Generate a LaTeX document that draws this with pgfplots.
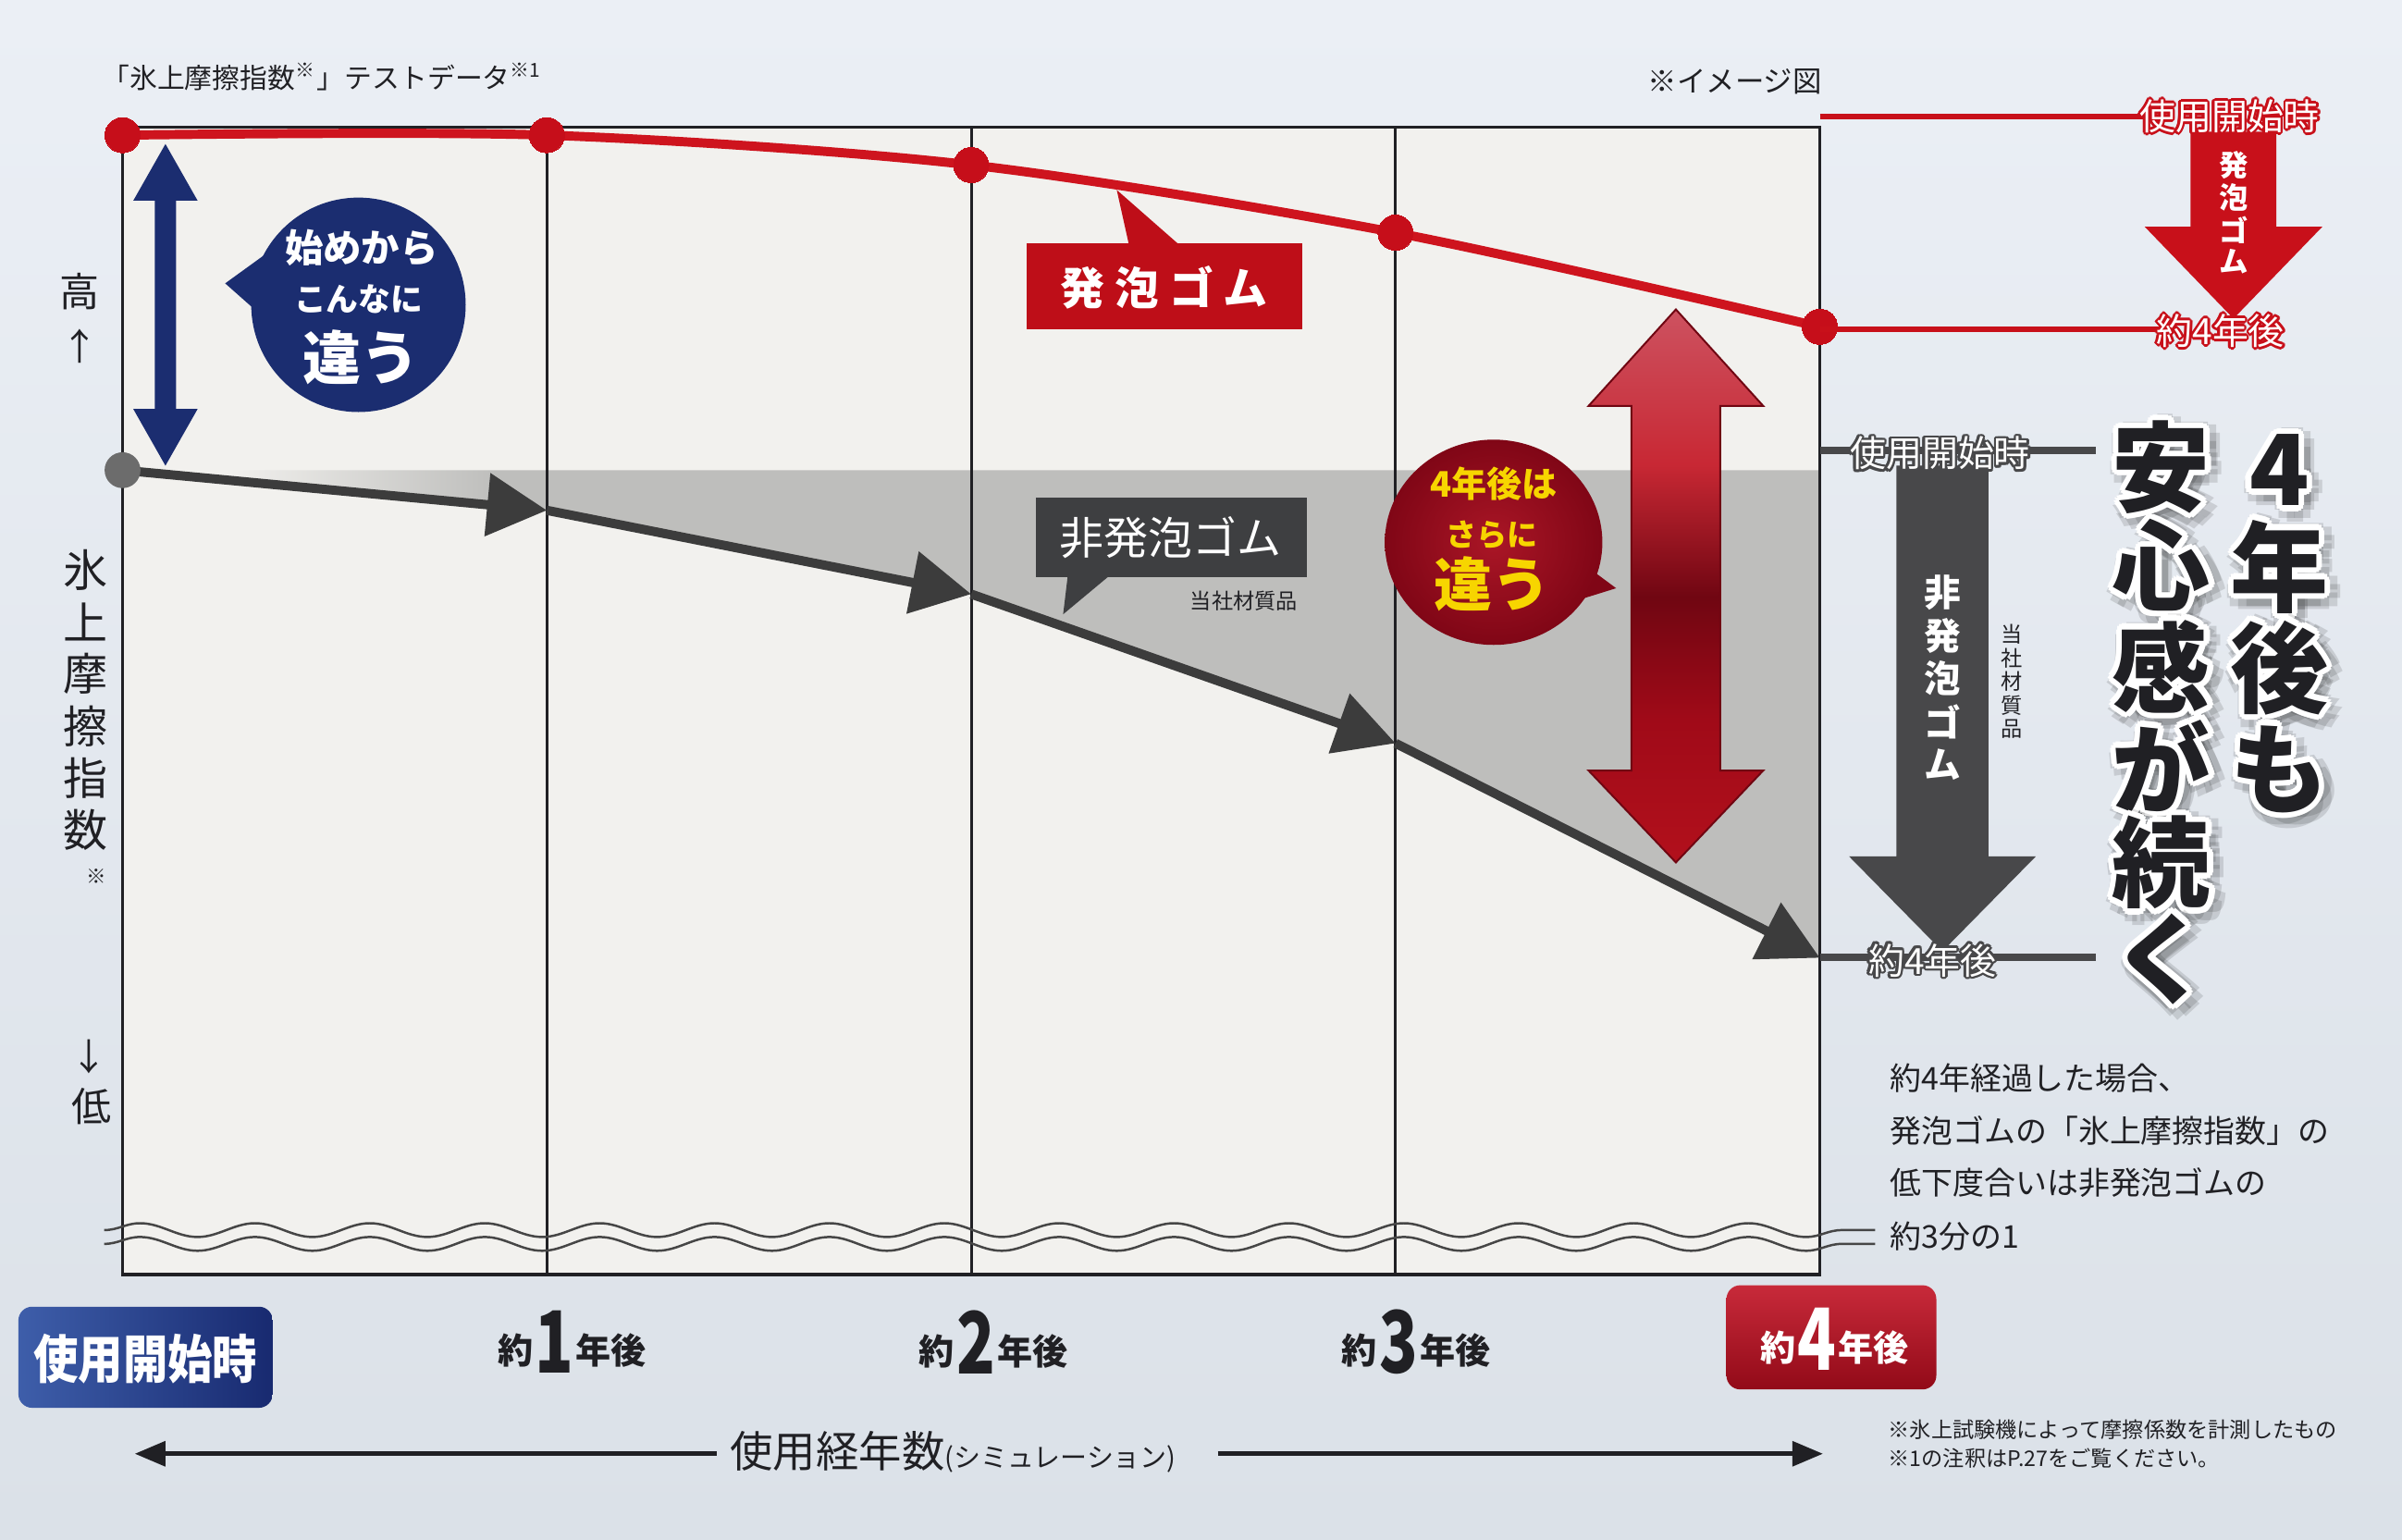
\documentclass[border=0pt]{standalone}
\usepackage{graphicx}
\usepackage{pgfplots}
\usepackage{pgfplotstable}
\pgfplotsset{compat=1.18}
\usepgfplotslibrary{fillbetween}
\usetikzlibrary{arrows.meta,decorations.pathmorphing}
\usepackage{fontspec}
\setmainfont{Noto Sans CJK JP}

% font size given in drawing units (1 unit = 0.1 mm)
\newcommand\fs[1]{\fontsize{\fpeval{#1*0.28453}pt}{\fpeval{#1*0.32}pt}\selectfont}

\definecolor{bgtop}{RGB}{235,239,245}
\definecolor{bgbot}{RGB}{219,225,232}
\definecolor{panel}{RGB}{242,241,238}
\definecolor{foamred}{RGB}{206,20,30}
\definecolor{dotred}{RGB}{198,14,26}
\definecolor{boxred}{RGB}{190,14,24}
\definecolor{tan}{RGB}{234,198,160}
\definecolor{fillgray}{RGB}{190,190,188}
\definecolor{linegray}{RGB}{60,60,60}
\definecolor{dotgray}{RGB}{108,108,108}
\definecolor{boxgray}{RGB}{62,63,65}
\definecolor{navy}{RGB}{27,45,112}
\definecolor{navyL}{RGB}{62,94,170}
\definecolor{navyD}{RGB}{24,42,112}
\definecolor{bubA}{RGB}{170,22,38}
\definecolor{bubB}{RGB}{128,6,22}
\definecolor{yel}{RGB}{247,213,0}
\definecolor{ink}{RGB}{32,32,36}
\definecolor{ra1}{RGB}{205,82,96}
\definecolor{ra2}{RGB}{200,40,52}
\definecolor{ra3}{RGB}{112,6,18}
\definecolor{ra4}{RGB}{160,10,24}
\definecolor{ra5}{RGB}{178,16,28}
\definecolor{legred}{RGB}{200,16,26}
\definecolor{leggray}{RGB}{72,72,74}
\definecolor{wavec}{RGB}{70,70,70}

\pgfdeclarehorizontalshading{grayfade}{100bp}{color(0bp)=(panel); color(28bp)=(panel); color(36bp)=(fillgray); color(100bp)=(fillgray)}
\pgfdeclareverticalshading{redbar}{100bp}{color(0bp)=(ra5); color(25bp)=(ra5); color(38bp)=(ra4); color(49bp)=(ra3); color(61bp)=(ra2); color(75bp)=(ra1); color(100bp)=(ra1)}

% outlined text: position, node options, outline colour, outline radius, text colour, text
\newcommand\otext[6]{%
  \foreach \a in {0,30,...,330}{\node[#2,text=#3,shift={(\a:#4)}] at (#1) {#6};}
  \node[#2,text=#5] at (#1) {#6};}

% heavy headline character with white outline and soft shadow
\newcommand\bigchar[3]{%
  \foreach \a in {0,45,...,315}{\node[bigtxt,text=black,opacity=0.12,shift={(\a:0.75mm)},xshift=0.3mm,yshift=-0.3mm] at (#1,#2) {#3};}
  \foreach \a in {0,30,...,330}{\node[bigtxt,text=white,shift={(\a:0.38mm)}] at (#1,#2) {#3};}
  \node[bigtxt,text=ink] at (#1,#2) {#3};}

% year label with a large digit centred on its grid line
\newcommand\yearlabel[4]{%
  \node[inner sep=0pt,text=#4] (d#3) at (#1,#2) {\fs{56}\bfseries\scalebox{0.74}[1]{#3}};
  \node[inner sep=0pt,anchor=base east,text=#4,font=\fs{23}\bfseries,yshift=0.6mm] at (d#3.base west) {約};
  \node[inner sep=0pt,anchor=base west,text=#4,font=\fs{23}\bfseries,yshift=0.6mm] at (d#3.base east) {年後};}

% ice friction index (top of frame = 100)
\pgfplotstableread{
year idx
0 99.3
1 99.3
2 96.7
3 90.8
4 82.6
}\foamdata
\pgfplotstableread{
year idx
0 70.1
1 66.6
2 59.3
3 46.3
4 27.6
}\plaindata

\begin{document}
\begin{tikzpicture}
\begin{scope}[x=0.1mm,y=-0.1mm]
  \path[use as bounding box] (0,0) rectangle (1568,1005);
  \shade[top color=bgtop, bottom color=bgbot] (0,0) rectangle (1568,1005);
  \fill[panel] (80,83) rectangle (1188,832);
\end{scope}

\begin{axis}[
  at={(8mm,-83.2mm)}, anchor=south west,
  scale only axis, width=110.8mm, height=74.9mm,
  xmin=0, xmax=4, ymin=0, ymax=100,
  axis line style={draw=none},
  xtick=\empty, ytick=\empty,
  clip=false,
]
  % shaded areas
  \addplot[name path=foam, draw=none, smooth, forget plot] table[x=year,y=idx]{\foamdata};
  \path[name path=ceiling] (axis cs:1,100) -- (axis cs:4,100);
  \addplot[fill=tan, draw=none, forget plot] fill between[of=ceiling and foam, soft clip={domain=1:4}];
  \addplot[draw=none, shade, shading=grayfade, forget plot] table[x=year,y=idx]{\plaindata} -- (axis cs:4,70.1) -- cycle;

  % frame and year lines
  \pgfplotsinvokeforeach{1,2,3}{\draw[ink, line width=0.18mm] (axis cs:#1,0) -- (axis cs:#1,100);}
  \draw[ink, line width=0.2mm] (axis cs:0,0) rectangle (axis cs:4,100);

  % non-foam rubber
  \addplot[linegray, line width=0.6mm, -{Triangle[length=3.9mm,width=4mm]}, restrict x to domain=0:1] table[x=year,y=idx]{\plaindata};
  \addplot[linegray, line width=0.6mm, -{Triangle[length=3.9mm,width=4mm]}, restrict x to domain=1:2] table[x=year,y=idx]{\plaindata};
  \addplot[linegray, line width=0.6mm, -{Triangle[length=3.9mm,width=4mm]}, restrict x to domain=2:3] table[x=year,y=idx]{\plaindata};
  \addplot[linegray, line width=0.6mm, -{Triangle[length=3.9mm,width=4mm]}, restrict x to domain=3:4] table[x=year,y=idx]{\plaindata};
  \addplot[only marks, mark=*, mark size=1.1mm, color=dotgray] coordinates {(0,70.1)};

  % foam rubber
  \addplot[foamred, line width=0.6mm, smooth, mark=*, mark size=1.15mm,
    mark options={fill=dotred, draw=dotred, line width=0pt}] table[x=year,y=idx]{\foamdata};
\end{axis}

\begin{scope}[x=0.1mm,y=-0.1mm, every node/.style={inner sep=0pt},
  bigtxt/.style={font=\fs{64}\bfseries}]
  % break marks
  \draw[wavec, line width=0.15mm, decorate, decoration={snake, amplitude=0.45mm, segment length=7.5mm}] (68,803) -- (1224,803);
  \draw[wavec, line width=0.15mm, decorate, decoration={snake, amplitude=0.45mm, segment length=7.5mm}] (68,812) -- (1224,812);

  % titles
  \node[anchor=west, text=ink, font=\fs{18}] at (66,50) {「氷上摩擦指数\textsuperscript{※}」テストデータ\textsuperscript{※1}};
  \node[anchor=east, text=ink, font=\fs{19}] at (1190,53) {※イメージ図};

  % vertical axis caption
  \node[text=ink, font=\fs{26}] at (52,190) {高};
  \node[text=ink, font=\fs{24}] at (52,226) {↑};
  \foreach \ch [count=\i from 0] in {氷,上,摩,擦,指,数}
    \node[text=ink, font=\fs{29}] at (56,{372+34*\i}) {\ch};
  \node[text=ink, font=\fs{13}] at (63,572) {※};
  \node[text=ink, font=\fs{24}] at (58,690) {↓};
  \node[text=ink, font=\fs{26}] at (60,722) {低};

  % initial gap
  \fill[navy] (108,94) -- (129,131) -- (115,131) -- (115,267) -- (129,267) -- (108,304) -- (87,267) -- (101,267) -- (101,131) -- (87,131) -- cycle;
  \fill[navy] (147,185) -- (176,164) -- (173,208) -- cycle;
  \fill[navy] (234,199) circle[radius=7mm];
  \node[text=white, font=\fs{25}\bfseries] at (236,162) {始めから};
  \node[text=white, font=\fs{21}\bfseries] at (234,195) {こんなに};
  \node[text=white, font=\fs{38}\bfseries] at (236,233) {違う};

  % series labels
  \fill[boxred] (737,160) -- (729,124) -- (770,160) -- cycle;
  \fill[boxred] (670,159) rectangle (850,215);
  \node[text=white, font=\fs{29}\bfseries] at (760,188) {発\hspace{0.65mm}泡\hspace{0.65mm}ゴ\hspace{0.65mm}ム};
  \fill[boxgray] (697,376) -- (694,401) -- (724,376) -- cycle;
  \fill[boxgray] (676,325) rectangle (853,377);
  \node[text=white, font=\fs{29}] at (764,351) {非発泡ゴム};
  \node[text=ink, font=\fs{14}] at (812,392) {当社材質品};

  % gap after four years
  \shadedraw[shading=redbar, draw=ra3, line width=0.12mm] (1094,202) -- (1151,265) -- (1123,265) -- (1123,503) -- (1151,503) -- (1094,563) -- (1037,503) -- (1065,503) -- (1065,265) -- (1037,265) -- cycle;
  \fill[bubB] (1028,364) -- (1055,384) -- (1026,393) -- cycle;
  \shade[inner color=bubA, outer color=bubB] (975,354) ellipse[x radius=7.1mm, y radius=6.7mm];
  \node[text=yel, font=\fs{23}\bfseries] at (975,316) {4年後は};
  \node[text=yel, font=\fs{20}\bfseries] at (974,349) {さらに};
  \node[text=yel, font=\fs{38}\bfseries] at (974,381) {違う};

  % decline of foam rubber
  \draw[legred, line width=0.4mm] (1188,76) -- (1400,76);
  \draw[legred, line width=0.4mm] (1188,215) -- (1410,215);
  \fill[legred] (1430,86) -- (1486,86) -- (1486,148) -- (1516,148) -- (1458,208) -- (1400,148) -- (1430,148) -- cycle;
  \foreach \ch [count=\i from 0] in {発,泡,ゴ,ム}
    \node[text=white, font=\fs{19}\bfseries] at (1458,{108+21*\i}) {\ch};
  \otext{1396,76}{anchor=west,font=\fs{23.5}}{legred}{0.16mm}{white}{使用開始時}
  \otext{1407,216}{anchor=west,font=\fs{23.5}}{legred}{0.16mm}{white}{約4年後}

  % decline of non-foam rubber
  \draw[leggray, line width=0.5mm] (1188,294) -- (1368,294);
  \draw[leggray, line width=0.5mm] (1188,625) -- (1368,625);
  \fill[leggray] (1238,304) -- (1298,304) -- (1298,559) -- (1329,559) -- (1268,621) -- (1207,559) -- (1238,559) -- cycle;
  \foreach \ch [count=\i from 0] in {非,発,泡,ゴ,ム}
    \node[text=white, font=\fs{24}\bfseries] at (1268,{387+28*\i}) {\ch};
  \foreach \ch [count=\i from 0] in {当,社,材,質,品}
    \node[text=ink, font=\fs{14}] at (1313,{414+15.5*\i}) {\ch};
  \otext{1207,296}{anchor=west,font=\fs{23.5}}{leggray}{0.16mm}{white}{使用開始時}
  \otext{1219,627}{anchor=west,font=\fs{23.5}}{leggray}{0.16mm}{white}{約4年後}

  % headline
  \foreach \ch/\yy in {4/307, 年/370, 後/436, も/502} {\bigchar{1488}{\yy}{\ch}}
  \foreach \ch/\yy in {安/305, 心/369, 感/435, が/500, 続/563, く/626} {\bigchar{1411}{\yy}{\ch}}

  % summary
  \node[anchor=west, text=ink, font=\fs{20.5}] at (1233,704) {約4年経過した場合、};
  \node[anchor=west, text=ink, font=\fs{20.5}] at (1233,738) {発泡ゴムの「氷上摩擦指数」の};
  \node[anchor=west, text=ink, font=\fs{20.5}] at (1233,772) {低下度合いは非発泡ゴムの};
  \node[anchor=west, text=ink, font=\fs{20.5}] at (1233,807) {約3分の1};

  % time axis
  \shade[rounded corners=0.9mm, left color=navyL, right color=navyD] (12,853) rectangle (178,919);
  \node[text=white, font=\fs{34}\bfseries] at (95,887) {\scalebox{0.86}[1]{使用開始時}};
  \yearlabel{362}{876}{1}{ink}
  \yearlabel{637}{876}{2}{ink}
  \yearlabel{913}{876}{3}{ink}
  \shade[rounded corners=0.9mm, top color={rgb,255:red,200;green,42;blue,58}, bottom color={rgb,255:red,146;green,10;blue,24}] (1127,839) rectangle (1264,907);
  \yearlabel{1186}{874}{4}{white}

  \draw[ink, line width=0.3mm, {Triangle[length=2mm,width=1.6mm]}-] (88,949) -- (468,949);
  \draw[ink, line width=0.3mm, -{Triangle[length=2mm,width=1.6mm]}] (795,949) -- (1190,949);
  \node[anchor=west, text=ink] at (476,948) {{\fs{28}使用経年数}{\fs{17.5}(シミュレーション)}};

  % notes
  \node[anchor=west, text=ink, font=\fs{14}] at (1232,933) {※氷上試験機によって摩擦係数を計測したもの};
  \node[anchor=west, text=ink, font=\fs{14}] at (1232,952) {※1の注釈はP.27をご覧ください。};
\end{scope}
\end{tikzpicture}
\end{document}
